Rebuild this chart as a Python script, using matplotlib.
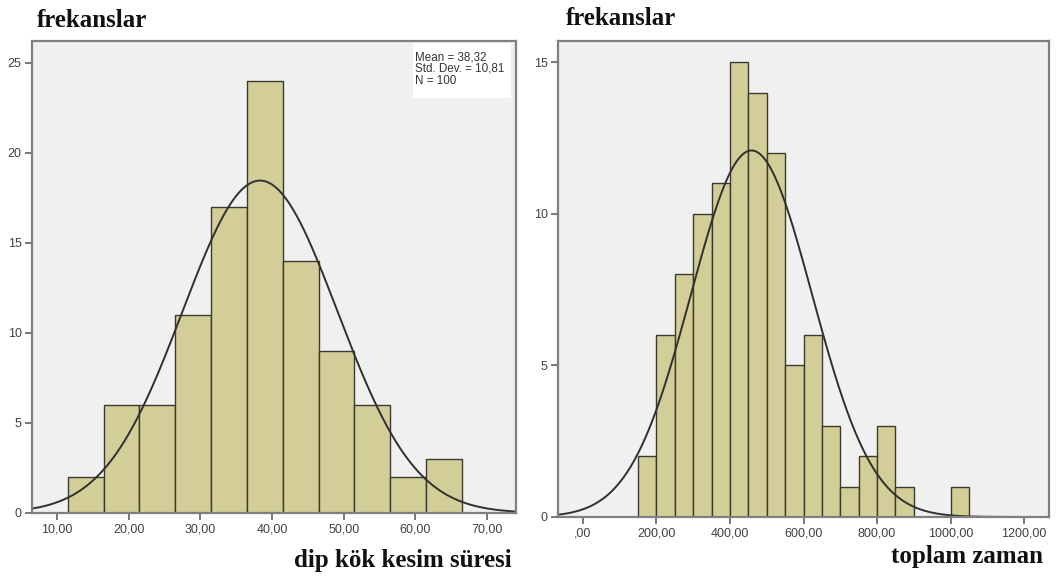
import numpy as np
import matplotlib
matplotlib.use("Agg")
import matplotlib.pyplot as plt
from matplotlib.patches import Rectangle

# left histogram: dip kök kesim süresi
left_edges = [11.5, 16.5, 21.5, 26.5, 31.5, 36.5, 41.5, 46.5, 51.5, 56.5, 61.5, 66.5]
left_counts = [2, 6, 6, 11, 17, 24, 14, 9, 6, 2, 3]
left_mean, left_sd, left_n = 38.32, 10.81, 100
left_xticks = [10, 20, 30, 40, 50, 60, 70]
left_xticklabels = ["10,00", "20,00", "30,00", "40,00", "50,00", "60,00", "70,00"]
left_yticks = [0, 5, 10, 15, 20, 25]
left_stats = ["Mean = 38,32", "Std. Dev. = 10,81", "N = 100"]

# right histogram: toplam zaman
right_edges = [150, 200, 250, 300, 350, 400, 450, 500, 550, 600, 650, 700,
               750, 800, 850, 900, 950, 1000, 1050]
right_counts = [2, 6, 8, 10, 11, 15, 14, 12, 5, 6, 3, 1, 2, 3, 1, 0, 0, 1]
right_mean, right_sd, right_n = 458.5, 165.0, 100
right_xticks = [0, 200, 400, 600, 800, 1000, 1200]
right_xticklabels = [",00", "200,00", "400,00", "600,00", "800,00", "1000,00", "1200,00"]
right_yticks = [0, 5, 10, 15]

BAR = "#D3CE97"
BG = "#F0F0F0"
FRAME = "#808080"
TXT = "#404040"
SERIF = ["Liberation Serif", "DejaVu Serif"]
SANS = ["Liberation Sans", "DejaVu Sans"]


def draw_hist(ax, edges, counts, mean, sd, n, xlim, ylim, xticks, xlabels, yticks):
    edges = np.asarray(edges, dtype=float)
    widths = np.diff(edges)
    ax.set_facecolor(BG)
    ax.bar(edges[:-1], counts, width=widths, align="edge", color=BAR,
           edgecolor="#3a3a30", linewidth=1.0, zorder=2)
    # fitted normal curve scaled to the counts
    xs = np.linspace(xlim[0], xlim[1], 400)
    bw = widths[0]
    ys = n * bw / (sd * np.sqrt(2 * np.pi)) * np.exp(-0.5 * ((xs - mean) / sd) ** 2)
    ax.plot(xs, ys, color="#303030", linewidth=1.4, zorder=3)
    ax.set_xlim(*xlim)
    ax.set_ylim(*ylim)
    ax.set_xticks(xticks)
    ax.set_xticklabels(xlabels)
    ax.set_yticks(yticks)
    for s in ax.spines.values():
        s.set_color(FRAME)
        s.set_linewidth(1.6)
        s.set_zorder(6)
    ax.tick_params(direction="out", length=5, width=1.2, color="#606060",
                   labelcolor=TXT, labelsize=9, pad=2.5)
    for lab in ax.get_xticklabels() + ax.get_yticklabels():
        lab.set_family(SANS)


fig = plt.figure(figsize=(10.59, 5.79), dpi=100)
fig.patch.set_facecolor("white")

ax1 = fig.add_axes([0.0302, 0.1140, 0.4571, 0.8152])
draw_hist(ax1, left_edges, left_counts, left_mean, left_sd, left_n,
          (6.5, 74.05), (0, 26.2), left_xticks, left_xticklabels, left_yticks)

# stats box
ax1.add_patch(Rectangle((0.787, 0.880), 0.203, 0.115, transform=ax1.transAxes,
                        facecolor="white", edgecolor="none", zorder=4))
for i, line in enumerate(left_stats):
    ax1.text(0.791, 0.966 - i * 0.025, line, transform=ax1.transAxes,
             ha="left", va="center", fontsize=8.4, family=SANS,
             color="#333333", zorder=5)

ax2 = fig.add_axes([0.5269, 0.1071, 0.4637, 0.8221])
draw_hist(ax2, right_edges, right_counts, right_mean, right_sd, right_n,
          (-68, 1268), (0, 15.7), right_xticks, right_xticklabels, right_yticks)

# titles and axis names (SPSS export style)
fig.text(37 / 1059, 1 - 27 / 579, "frekanslar", family=SERIF, fontweight="bold",
         fontsize=18, ha="left", va="baseline", color="#111111")
fig.text(566 / 1059, 1 - 25 / 579, "frekanslar", family=SERIF, fontweight="bold",
         fontsize=18, ha="left", va="baseline", color="#111111")
fig.text(512 / 1059, 1 - 567 / 579, "dip kök kesim süresi", family=SERIF,
         fontweight="bold", fontsize=18, ha="right", va="baseline", color="#111111")
fig.text(1043 / 1059, 1 - 563 / 579, "toplam zaman", family=SERIF,
         fontweight="bold", fontsize=18, ha="right", va="baseline", color="#111111")

fig.savefig("out.png", dpi=100)
